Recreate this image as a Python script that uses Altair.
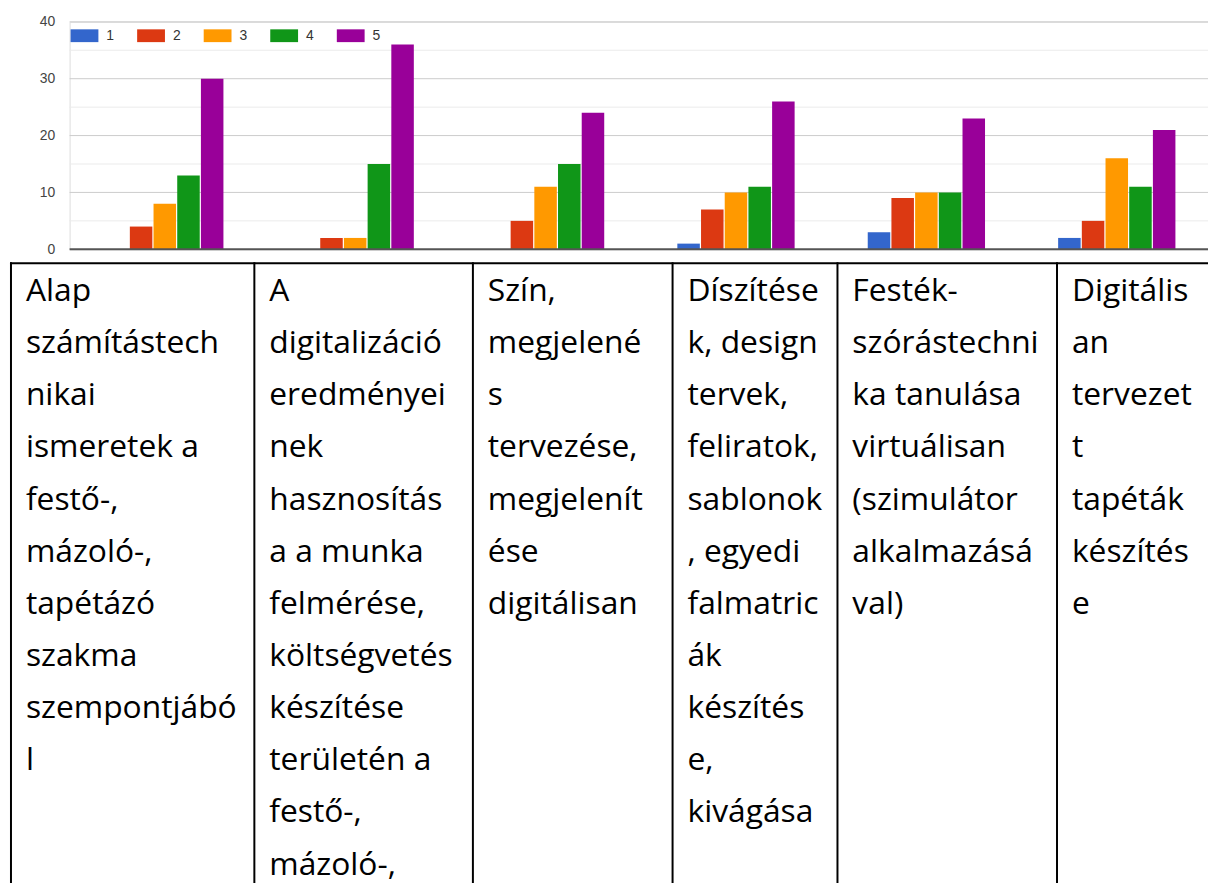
import altair as alt
import pandas as pd

# ---------------- data ----------------
categories = [
    "Alap\nszámítástech\nnikai\nismeretek a\nfestő-,\nmázoló-,\ntapétázó\nszakma\nszempontjábó\nl",
    "A\ndigitalizáció\neredményei\nnek\nhasznosítás\na a munka\nfelmérése,\nköltségvetés\nkészítése\nterületén a\nfestő-,\nmázoló-,",
    "Szín,\nmegjelené\ns\ntervezése,\nmegjelenít\nése\ndigitálisan",
    "Díszítése\nk, design\ntervek,\nfeliratok,\nsablonok\n, egyedi\nfalmatric\nák\nkészítés\ne,\nkivágása",
    "Festék-\nszórástechni\nka tanulása\nvirtuálisan\n(szimulátor\nalkalmazásá\nval)",
    "Digitális\nan\ntervezet\nt\ntapéták\nkészítés\ne",
]
ratings = ["1", "2", "3", "4", "5"]
counts_1 = [0, 0, 0, 1, 3, 2]
counts_2 = [4, 2, 5, 7, 9, 5]
counts_3 = [8, 2, 11, 10, 10, 16]
counts_4 = [13, 15, 15, 11, 10, 11]
counts_5 = [30, 36, 24, 26, 23, 21]
y_labels = [0, 10, 20, 30, 40]
minor_ticks = [5, 15, 25, 35]
major_ticks = [10, 20, 30, 40]

colors = ["#3366cc", "#dc3912", "#ff9900", "#109618", "#990099"]

# ---------------- layout constants (pixels) ----------------
PLOT_X0 = 70          # page x of plot origin
PLOT_Y0 = 19          # page y of plot origin
PLOT_W = 1146
PLOT_H = 229
TABLE_EDGES_PAGE = [11, 256, 476, 677, 843, 1064]
TABLE_TOP_PAGE = 262
TEXT_BASELINE_PAGE = 300

series = [counts_1, counts_2, counts_3, counts_4, counts_5]
rows = []
for r, vals in zip(ratings, series):
    for c, v in zip(categories, vals):
        rows.append({"category": c, "rating": r, "count": v})
df = pd.DataFrame(rows)

yscale = alt.Scale(domain=[0, 40])

yaxis = alt.Axis(
    values=y_labels,
    grid=False,
    domain=False,
    ticks=False,
    labelPadding=15,
    labelFontSize=14,
    labelFont="Liberation Sans",
    labelColor="#444444",
    title=None,
)

minor = alt.Chart(pd.DataFrame({"v": minor_ticks})).mark_rule(
    color="#ebebeb", strokeWidth=1
).encode(y=alt.Y("v:Q", scale=yscale, axis=yaxis))

major = alt.Chart(pd.DataFrame({"v": major_ticks})).mark_rule(
    color="#cccccc", strokeWidth=1
).encode(y=alt.Y("v:Q", scale=yscale, axis=yaxis))

bars = alt.Chart(df).mark_bar().encode(
    x=alt.X(
        "category:N",
        sort=categories,
        scale=alt.Scale(range=[0, 1150], paddingInner=0.384, paddingOuter=0.192),
        axis=None,
    ),
    xOffset=alt.XOffset("rating:N", sort=ratings, scale=alt.Scale(paddingInner=0.05)),
    y=alt.Y("count:Q", scale=yscale, axis=yaxis),
    color=alt.Color(
        "rating:N",
        sort=ratings,
        scale=alt.Scale(domain=ratings, range=colors),
        legend=alt.Legend(
            orient="none",
            legendX=1,
            legendY=0,
            direction="horizontal",
            title=None,
            symbolType="M-1,-0.46H1V0.46H-1Z",
            symbolSize=784,
            symbolStrokeWidth=0,
            symbolOpacity=1,
            labelFontSize=14,
            labelFont="Liberation Sans",
            labelColor="#333333",
            labelOffset=8,
            columnPadding=23,
            padding=0,
        ),
    ),
)

zero = alt.Chart(pd.DataFrame({"v": [0]})).mark_rule(
    color="#555555", strokeWidth=2
).encode(y=alt.Y("v:Q", scale=yscale, axis=yaxis))

# ---------------- table ----------------
tdf = pd.DataFrame({
    "label": categories,
    "edge": [e - PLOT_X0 for e in TABLE_EDGES_PAGE],
})

vlines = alt.Chart(tdf).mark_rule(color="black", strokeWidth=2).encode(
    x=alt.X("edge:Q", scale=None),
    y=alt.value(TABLE_TOP_PAGE - PLOT_Y0 - 1),
    y2=alt.value(900),
)

hline = alt.Chart(pd.DataFrame({"edge": [TABLE_EDGES_PAGE[0] - PLOT_X0 - 1]})).mark_rule(
    color="black", strokeWidth=2
).encode(
    x=alt.X("edge:Q", scale=None),
    x2=alt.value(1200),
    y=alt.value(TABLE_TOP_PAGE - PLOT_Y0),
)

texts = alt.Chart(tdf).transform_calculate(
    lines="split(datum.label, '\\n')"
).mark_text(
    align="left",
    baseline="alphabetic",
    font="Open Sans",
    fontSize=32,
    lineHeight=52.5,
    color="black",
    dx=15,
).encode(
    x=alt.X("edge:Q", scale=None),
    y=alt.value(TEXT_BASELINE_PAGE - PLOT_Y0),
    text=alt.Text("lines:N"),
)

chart = alt.layer(minor, major, bars, zero, vlines, hline, texts).properties(
    width=PLOT_W,
    height=PLOT_H,
    padding={"left": PLOT_X0 - 8, "top": PLOT_Y0 - 8, "right": 0, "bottom": 875 - (PLOT_Y0 - 8) - PLOT_H},
    autosize=alt.AutoSizeParams(type="none"),
).configure_view(stroke=None).configure(background="white")

chart.save("out.html", embed_options={"renderer": "svg", "actions": False})
